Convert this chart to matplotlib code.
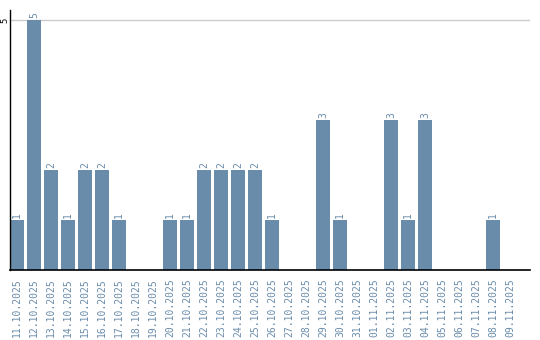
import matplotlib
matplotlib.use("Agg")
import matplotlib.pyplot as plt

dates = ["11.10.2025", "12.10.2025", "13.10.2025", "14.10.2025", "15.10.2025",
         "16.10.2025", "17.10.2025", "18.10.2025", "19.10.2025", "20.10.2025",
         "21.10.2025", "22.10.2025", "23.10.2025", "24.10.2025", "25.10.2025",
         "26.10.2025", "27.10.2025", "28.10.2025", "29.10.2025", "30.10.2025",
         "31.10.2025", "01.11.2025", "02.11.2025", "03.11.2025", "04.11.2025",
         "05.11.2025", "06.11.2025", "07.11.2025", "08.11.2025", "09.11.2025"]
counts = [1, 5, 2, 1, 2, 2, 1, 0, 0, 1,
          1, 2, 2, 2, 2, 1, 0, 0, 3, 1,
          0, 0, 3, 1, 3, 0, 0, 0, 1, 0]

bar_color = "#6a8cab"
font = "DejaVu Sans Mono"

fig = plt.figure(figsize=(5.4, 3.4), dpi=100)
ax = fig.add_axes([10 / 540, 70 / 340, 520 / 540, 260 / 340])

x = list(range(len(dates)))
ax.bar(x, counts, width=14 / 17, color=bar_color, zorder=2)

# value labels on top of non-empty bars
for xi, v in zip(x, counts):
    if v > 0:
        ax.text(xi, v + 0.04, str(v), rotation=90, ha="center", va="bottom",
                fontsize=7, color=bar_color, family=font)

ax.set_xlim(-7 / 17, -7 / 17 + 520 / 17)
ax.set_ylim(0, 5.2)

ax.axhline(5, color="#cccccc", linewidth=1, zorder=1)

ax.set_xticks(x)
ax.set_xticklabels(dates, rotation=90, fontsize=7, color=bar_color, family=font)
ax.tick_params(axis="x", length=0, pad=6)

ax.set_yticks([5])
ax.set_yticklabels(["5"], rotation=90, fontsize=6.5, family=font, va="center")
ax.tick_params(axis="y", length=0, pad=0.5)

for side in ["top", "right"]:
    ax.spines[side].set_visible(False)
ax.spines["left"].set_linewidth(1.0)
ax.spines["bottom"].set_linewidth(1.2)

fig.savefig("out.png", dpi=100)
